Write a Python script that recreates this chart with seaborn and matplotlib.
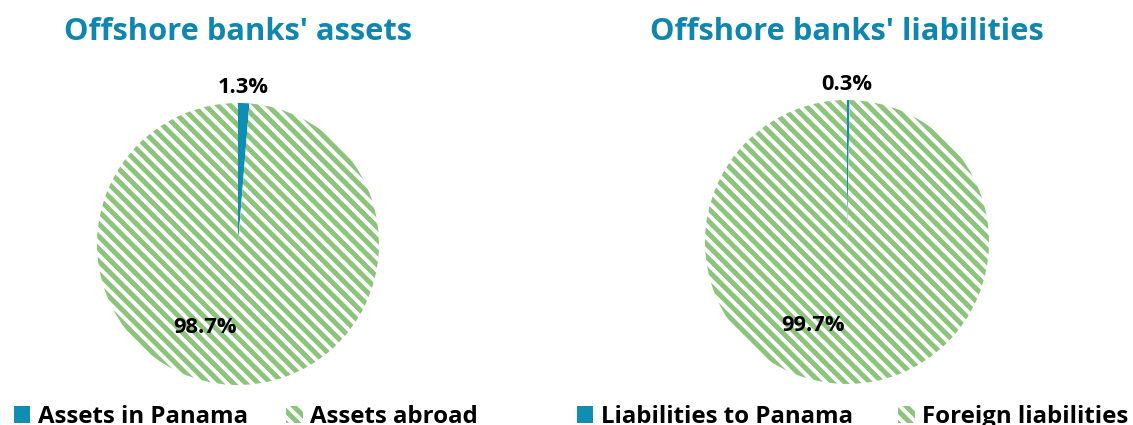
import matplotlib
matplotlib.use("Agg")
import matplotlib.pyplot as plt
from matplotlib.patches import Patch
import seaborn as sns

# Data
titles = ["Offshore banks' assets", "Offshore banks' liabilities"]
categories_assets = ["Assets in Panama", "Assets abroad"]
categories_liabs = ["Liabilities to Panama", "Foreign liabilities"]
values_assets = [1.3, 98.7]
values_liabs = [0.3, 99.7]
labels_assets = ["1.3%", "98.7%"]
labels_liabs = ["0.3%", "99.7%"]

sns.set_theme(style="white")
plt.rcParams['font.family'] = ['Open Sans', 'DejaVu Sans']
plt.rcParams['hatch.linewidth'] = 2.4

TEAL = "#0f8db3"
GREEN = "#8cc47c"
TITLE_C = "#0e86b0"
HATCH = "\\" * 4

DPI = 150
fig = plt.figure(figsize=(1133 / DPI, 425 / DPI), dpi=DPI)
W, H = 1133, 425

def add_pie(cx, cy, r, values, labels, cats, title, lab_pos, leg_x, colspace):
    ax = fig.add_axes([(cx - r) / W, (H - cy - r) / H, 2 * r / W, 2 * r / H])
    wedges, _ = ax.pie(values, colors=[TEAL, "white"], startangle=90,
                       counterclock=False, radius=1.0,
                       wedgeprops=dict(linewidth=0))
    wedges[1].set_hatch(HATCH)
    wedges[1].set_edgecolor(GREEN)
    wedges[1].set_linewidth(0)
    ax.set_xlim(-1, 1)
    ax.set_ylim(-1, 1)
    ax.set_aspect("equal")
    ax.axis("off")
    for (x, y), t in zip(lab_pos, labels):
        ax.text(x, y, t, ha="center", va="center", fontsize=10.5,
                fontweight="bold", color="black", clip_on=False)
    fig.text(cx / W, (H - 32) / H, title, ha="center", va="center",
             fontsize=14.8, fontweight="bold", color=TITLE_C)
    handles = [Patch(facecolor=TEAL, edgecolor=TEAL, linewidth=0),
               Patch(facecolor="white", edgecolor=GREEN, hatch=HATCH, linewidth=0)]
    leg = fig.legend(handles, cats, loc="center left",
                     bbox_to_anchor=(leg_x / W, (H - 417) / H), ncol=2,
                     frameon=False, handlelength=0.7, handleheight=0.7,
                     handletextpad=0.3, columnspacing=colspace,
                     prop=dict(family=['Open Sans'], weight="bold", size=11.5))
    for t in leg.get_texts():
        t.set_color("black")
    return ax

add_pie(238, 244, 141, values_assets, labels_assets, categories_assets, titles[0],
        [(0.04, 1.11), (-0.234, -0.589)], -8, 1.6)
add_pie(847, 242, 142, values_liabs, labels_liabs, categories_liabs, titles[1],
        [(0.0, 1.11), (-0.24, -0.585)], 555, 1.9)

fig.savefig("out.png", dpi=DPI, facecolor="white")
